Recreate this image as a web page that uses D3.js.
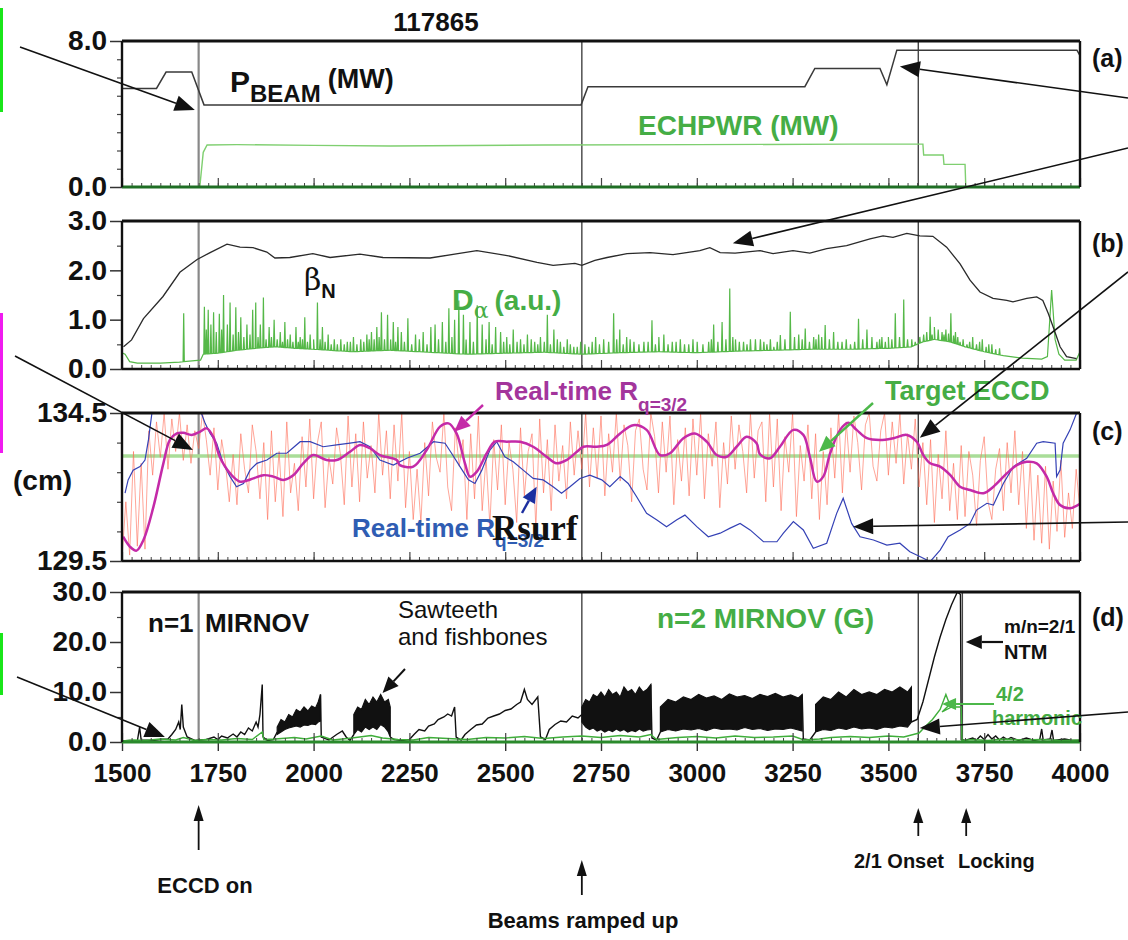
<!DOCTYPE html>
<html>
<head>
<meta charset="utf-8">
<script src="https://cdn.jsdelivr.net/npm/d3@7"></script>
<style>
  body { margin: 0; background: #fff; }
  svg { display: block; }
</style>
</head>
<body>
<svg id="chart" width="1128" height="940"></svg>
<script>
// ---------------- Shot 117865: time traces (ms) ----------------
const shotLabel = "117865";
const timeDomain = [1500, 4000];
const xMajorTicks = [1500, 1750, 2000, 2250, 2500, 2750, 3000, 3250, 3500, 3750, 4000];
const eventTimes = [1700, 2700, 3578];   // ECCD on, beams ramped up, 2/1 onset
const lockTime = 3693;                   // mode locking

// (a) neutral beam power and ECH power (MW)
const pbeamT = [1500, 1590, 1615, 1682, 1714, 2698, 2716, 3282, 3308, 3478, 3496, 3522, 3992, 4000];
const pbeamV = [5.4, 5.4, 6.3, 6.3, 4.5, 4.5, 5.5, 5.5, 6.5, 6.5, 5.6, 7.5, 7.5, 7.2];
const echT = [1500, 1703, 1712, 1722, 1800, 2000, 2200, 2600, 3000, 3400, 3590, 3592, 3643, 3645, 3700, 3702, 4000];
const echV = [0, 0, 1.9, 2.3, 2.32, 2.28, 2.25, 2.3, 2.32, 2.35, 2.35, 1.75, 1.75, 1.24, 1.24, 0, 0];

// (b) normalized beta and D-alpha
const betaT = [1504, 1525, 1556, 1607, 1651, 1696, 1730, 1774, 1808, 1842, 1878, 1899, 1938, 1998, 2043, 2121, 2181, 2304, 2426, 2505, 2583, 2625, 2682, 2700, 2734, 2766, 2818, 2878, 2938, 3008, 3034, 3061, 3100, 3165, 3199, 3251, 3295, 3339, 3391, 3452, 3486, 3512, 3548, 3582, 3616, 3652, 3687, 3713, 3739, 3773, 3809, 3825, 3861, 3887, 3903, 3917, 3930, 3948, 3965, 3991];
const betaV = [0.45, 0.59, 1.02, 1.47, 1.96, 2.22, 2.36, 2.53, 2.47, 2.46, 2.37, 2.25, 2.26, 2.34, 2.26, 2.33, 2.26, 2.25, 2.4, 2.3, 2.16, 2.1, 2.14, 2.1, 2.2, 2.26, 2.34, 2.36, 2.32, 2.4, 2.46, 2.36, 2.35, 2.4, 2.34, 2.4, 2.35, 2.44, 2.5, 2.64, 2.7, 2.67, 2.75, 2.7, 2.69, 2.47, 2.13, 1.8, 1.56, 1.43, 1.39, 1.36, 1.43, 1.46, 1.39, 1.13, 0.85, 0.45, 0.25, 0.21];
const dalphaBase = [[1500,0.33],[1508,0.3],[1520,0.15],[1540,0.12],[1600,0.12],[1650,0.14],[1690,0.17],[1705,0.18],[1712,0.3],[1750,0.32],[1800,0.38],[1850,0.42],[1900,0.45],[1950,0.42],[2000,0.4],[2100,0.35],[2200,0.38],[2300,0.34],[2400,0.3],[2500,0.32],[2600,0.34],[2700,0.3],[2800,0.33],[2900,0.35],[3000,0.33],[3100,0.36],[3200,0.38],[3300,0.4],[3400,0.4],[3500,0.42],[3560,0.45],[3590,0.55],[3620,0.6],[3660,0.55],[3700,0.45],[3750,0.35],[3800,0.27],[3850,0.22],[3900,0.2],[3915,0.25],[3926,1.6],[3935,0.6],[3945,0.3],[3960,0.18],[3990,0.18],[4000,0.35]];
const dalphaSpikes = [[1661,1.13],[1715,1.26],[1725,1.2],[1739,1.15],[1754,1.12],[1765,1.5],[1782,1.35],[1797,1.25],[1810,1.05],[1826,0.9],[1841,1.2],[1849,1.35],[1861,0.9],[1869,1.45],[1884,0.85],[1897,1.0],[1913,0.75],[1925,0.95],[1939,0.7],[1954,0.85],[1965,0.65],[1977,1.05],[1991,0.7],[2010,1.35],[2023,0.85],[2038,0.7],[2054,0.6],[2071,0.6],[2088,0.55],[2104,0.65],[2123,0.6],[2139,0.7],[2151,0.75],[2165,0.85],[2177,1.15],[2193,1.1],[2208,0.95],[2220,0.85],[2229,0.75],[2246,1.03],[2266,0.7],[2286,0.75],[2306,0.85],[2317,0.9],[2336,0.95],[2353,1.23],[2368,1.0],[2379,1.39],[2391,1.1],[2408,0.95],[2427,1.29],[2440,0.9],[2458,0.95],[2475,0.85],[2488,0.75],[2504,0.65],[2521,0.8],[2540,0.6],[2558,0.7],[2577,0.55],[2592,0.65],[2610,1.1],[2627,0.8],[2644,0.55],[2662,0.6],[2679,0.45],[2697,0.55],[2718,0.45],[2736,0.65],[2757,0.6],[2783,1.13],[2799,0.8],[2817,0.65],[2836,0.55],[2862,0.55],[2883,0.99],[2901,0.65],[2914,0.7],[2936,0.55],[2957,0.6],[2979,0.5],[3001,0.55],[3031,0.55],[3044,0.9],[3066,0.95],[3086,1.63],[3101,0.6],[3122,0.55],[3140,0.6],[3166,0.6],[3183,0.5],[3201,0.45],[3218,0.69],[3244,1.16],[3266,0.7],[3283,0.82],[3305,0.65],[3318,0.7],[3335,0.89],[3357,0.75],[3379,0.55],[3401,0.5],[3422,1.02],[3444,0.8],[3470,0.55],[3483,0.65],[3500,0.65],[3518,1.13],[3540,1.41],[3561,0.6],[3592,0.7],[3609,1.06],[3620,0.85],[3640,0.75],[3650,0.8],[3663,1.13],[3675,0.75],[3687,0.55],[3705,0.5],[3720,0.65],[3745,0.6],[3770,0.5]];
const dalphaSmallSpikes = [[1720,0.8],[1732,0.9],[1746,0.75],[1760,0.8],[1775,0.9],[1790,0.7],[1804,0.75],[1818,0.65],[1834,0.7],[1855,0.65],[1876,0.6],[1890,0.65],[1905,0.6],[1919,0.55],[1932,0.6],[1946,0.55],[1960,0.55],[1971,0.6],[1984,0.55],[2000,0.6],[2017,0.6],[2030,0.55],[2046,0.5],[2062,0.5],[2080,0.5],[2096,0.55],[2113,0.5],[2131,0.55],[2145,0.6],[2158,0.6],[2171,0.65],[2185,0.6],[2201,0.6],[2214,0.55],[2237,0.55],[2256,0.5],[2276,0.6],[2296,0.5],[2326,0.6],[2345,0.55],[2361,0.65],[2398,0.6],[2417,0.55],[2450,0.6],[2466,0.5],[2496,0.55],[2512,0.5],[2531,0.55],[2549,0.5],[2568,0.6],[2585,0.5],[2602,0.55],[2618,0.5],[2636,0.6],[2653,0.45],[2670,0.5],[2688,0.45],[2708,0.5],[2727,0.55],[2746,0.5],[2770,0.55],[2791,0.6],[2808,0.5],[2826,0.6],[2849,0.5],[2873,0.55],[2892,0.5],[2925,0.5],[2946,0.55],[2968,0.5],[2990,0.6],[3016,0.5],[3038,0.6],[3055,0.55],[3076,0.6],[3094,0.65],[3111,0.55],[3131,0.5],[3153,0.6],[3175,0.55],[3192,0.6],[3210,0.55],[3230,0.6],[3255,0.65],[3275,0.6],[3294,0.55],[3311,0.6],[3326,0.65],[3346,0.6],[3368,0.55],[3390,0.6],[3412,0.55],[3433,0.6],[3457,0.65],[3477,0.6],[3492,0.55],[3509,0.6],[3529,0.65],[3550,0.6],[3570,0.55],[3582,0.65],[3600,0.75],[3614,0.7],[3630,0.8],[3645,0.7],[3657,0.72],[3670,0.68],[3681,0.65],[3695,0.6],[3712,0.55],[3730,0.5],[3738,0.55],[3755,0.45],[3762,0.5],[3780,0.4],[3790,0.42]];

// (c) major radius of q=3/2 surface and ECCD target (cm)
const targetR = 133.05;
const rq32T = [1503, 1521, 1538, 1556, 1582, 1608, 1625, 1643, 1660, 1682, 1704, 1721, 1738, 1755, 1782, 1808, 1843, 1869, 1895, 1921, 1947, 1973, 1999, 2034, 2060, 2095, 2121, 2147, 2173, 2217, 2225, 2260, 2295, 2330, 2352, 2373, 2395, 2408, 2426, 2452, 2473, 2504, 2539, 2573, 2608, 2634, 2660, 2687, 2704, 2739, 2765, 2800, 2834, 2869, 2904, 2930, 2965, 2995, 3026, 3052, 3078, 3104, 3130, 3156, 3165, 3191, 3217, 3252, 3278, 3295, 3313, 3330, 3348, 3374, 3395, 3417, 3444, 3478, 3513, 3548, 3574, 3591, 3609, 3635, 3661, 3687, 3713, 3748, 3774, 3809, 3835, 3861, 3887, 3913, 3930, 3948, 3974, 4000];
const rq32V = [130.32, 129.98, 129.85, 130.21, 131.33, 132.8, 133.59, 133.81, 133.83, 133.76, 133.87, 133.98, 133.7, 133.02, 132.46, 132.18, 132.29, 132.4, 132.35, 132.24, 132.4, 132.8, 133.08, 132.91, 132.91, 133.19, 133.42, 133.31, 133.08, 132.91, 132.74, 132.69, 133.25, 134.04, 134.15, 133.81, 132.8, 132.35, 132.52, 133.14, 133.53, 133.53, 133.53, 133.36, 133.02, 132.8, 132.91, 133.19, 133.36, 133.36, 133.42, 133.81, 134.09, 133.93, 133.08, 133.14, 133.65, 133.81, 133.53, 133.08, 133.02, 133.36, 133.7, 133.48, 133.1, 132.97, 133.36, 133.93, 133.76, 133.02, 132.18, 132.35, 133.14, 133.93, 134.17, 133.93, 133.65, 133.59, 133.65, 133.76, 133.53, 133.08, 132.8, 132.69, 132.41, 132.01, 131.9, 131.79, 132.01, 132.46, 132.74, 132.85, 132.8, 132.35, 131.79, 131.39, 131.28, 131.43];
const rsurfT = [1508, 1516, 1529, 1547, 1560, 1569, 1578, 1583, 1700, 1704, 1717, 1730, 1747, 1764, 1782, 1799, 1817, 1834, 1852, 1878, 1904, 1930, 1965, 1991, 2025, 2060, 2095, 2121, 2147, 2173, 2208, 2243, 2278, 2313, 2343, 2360, 2382, 2404, 2421, 2439, 2460, 2478, 2499, 2521, 2547, 2573, 2599, 2625, 2647, 2669, 2695, 2721, 2752, 2773, 2800, 2821, 2843, 2869, 2895, 2921, 2948, 2969, 3000, 3030, 3061, 3087, 3113, 3139, 3174, 3209, 3226, 3252, 3278, 3304, 3339, 3365, 3382, 3404, 3426, 3461, 3496, 3530, 3556, 3582, 3609, 3635, 3656, 3687, 3713, 3730, 3757, 3774, 3800, 3826, 3861, 3887, 3904, 3935, 3939, 3948, 3956, 3974, 3991, 4000];
const rsurfV = [131.79, 132.24, 132.57, 132.69, 132.91, 133.59, 134.49, 135.5, 135.5, 134.6, 134.15, 133.81, 133.48, 132.8, 132.35, 132.01, 132.12, 132.57, 132.8, 132.91, 133.14, 133.14, 133.53, 133.53, 133.36, 133.42, 133.48, 133.53, 133.36, 132.91, 132.74, 132.97, 133.14, 133.53, 133.48, 133.14, 132.69, 132.24, 132.12, 132.57, 133.25, 133.53, 133.02, 132.85, 132.57, 132.29, 132.24, 132.01, 131.79, 132.01, 132.29, 132.4, 132.24, 132.01, 132.35, 132.12, 131.67, 131.11, 130.89, 130.66, 130.89, 131.05, 130.66, 130.32, 130.44, 130.61, 130.77, 130.55, 130.15, 130.15, 130.44, 130.83, 130.55, 129.93, 130.1, 131.11, 131.62, 130.77, 130.32, 130.21, 130.04, 130.1, 129.81, 129.65, 129.48, 129.87, 130.32, 130.55, 130.77, 131.22, 131.45, 131.39, 132.12, 132.69, 132.97, 133.48, 133.53, 133.48, 132.35, 132.57, 133.48, 133.93, 134.49, 134.8];
// raw (unfiltered) surface radius, sampled every 10 ms from 1500 ms
const rawStep = 10;
const rawR = [
  129.6, 131.5, 129.7, 133.2, 130.0, 132.8, 129.9, 133.9, 132.4, 134.2,
  133.0, 134.5, 132.6, 134.3, 133.2, 134.5, 132.9, 134.1, 132.8, 133.9,
  133.3, 134.5, 133.6, 132.4, 134.0, 131.9, 133.6, 132.8, 131.5, 133.1,
  131.4, 133.8, 132.6, 131.8, 134.1, 133.2, 131.6, 133.5, 130.9, 133.9,
  131.5, 133.2, 131.0, 134.2, 131.8, 132.8, 131.2, 133.7, 132.0, 134.3,
  131.6, 133.5, 134.2, 131.3, 133.0, 132.1, 134.0, 133.1, 131.4, 134.4,
  132.0, 133.8, 131.5, 134.2, 132.3, 133.4, 131.8, 134.5, 132.4, 133.9,
  131.6, 134.1, 132.2, 134.5, 131.3, 133.2, 130.9, 132.6, 130.8, 133.5,
  131.7, 134.2, 133.0, 132.5, 134.5, 132.0, 131.2, 134.0, 132.7, 133.6,
  130.9, 133.8, 131.6, 134.4, 131.2, 133.0, 130.7, 133.6, 131.9, 134.1,
  131.4, 133.5, 132.6, 130.8, 134.0, 131.7, 133.2, 133.8, 130.6, 134.3,
  131.8, 133.6, 131.2, 134.1, 132.2, 133.4, 131.6, 134.2, 132.4, 133.9,
  132.6, 134.5, 132.0, 134.0, 132.3, 134.4, 131.7, 133.8, 132.5, 134.5,
  132.2, 134.1, 133.4, 131.5, 133.9, 134.3, 132.6, 131.9, 134.5, 133.7,
  131.8, 134.2, 132.5, 134.4, 131.4, 133.6, 132.2, 134.0, 131.7, 134.3,
  132.4, 134.5, 131.6, 133.8, 132.7, 134.2, 131.3, 133.5, 132.1, 134.4,
  132.6, 134.1, 133.2, 131.8, 134.5, 132.3, 133.9, 134.2, 131.5, 134.5,
  132.0, 134.3, 131.2, 133.7, 132.5, 134.5, 131.0, 133.4, 132.2, 134.1,
  131.6, 133.8, 130.9, 133.2, 131.4, 134.0, 132.3, 134.5, 131.8, 134.2,
  132.5, 134.4, 133.5, 131.9, 134.1, 134.5, 132.7, 132.2, 133.9, 134.5,
  132.4, 134.2, 132.8, 134.5, 132.1, 133.8, 132.6, 134.3, 132.0, 133.5,
  131.4, 133.6, 130.8, 133.1, 131.6, 133.9, 131.2, 132.8, 130.9, 133.4,
  131.0, 133.2, 132.4, 130.7, 132.9, 133.7, 131.5, 130.9, 132.6, 133.3,
  131.2, 133.5, 131.8, 133.9, 131.4, 133.2, 130.6, 132.8, 130.2, 132.4,
  130.1, 132.7, 129.9, 132.2, 130.5, 132.9, 130.3, 131.8, 130.6, 132.6,
  131.2
];

// (d) Mirnov amplitudes (G): n=1 sparse segments and dense bursts
const n1Segments = [
  [[1500,0.2],[1520,0.3],[1540,0.2],[1546,3.0],[1550,0.4],[1580,0.3],[1600,0.5],[1620,0.6],[1630,1.5],[1640,2.5],[1648,4.0],[1652,2.5],[1656,7.5],[1660,3.0],[1670,1.0],[1690,0.3],[1720,0.5],[1740,1.0],[1750,0.5],[1760,1.2],[1775,0.8],[1790,1.6],[1800,1.0],[1810,2.0],[1820,1.5],[1830,2.8],[1840,2.2],[1850,4.0],[1855,3.0],[1860,5.5],[1866,11.5],[1868,1.0],[1880,0.3],[1895,0.5],[1905,2.0]],
  [[2018,9.5],[2020,1.0],[2040,0.4],[2060,1.5],[2075,2.2],[2085,1.0],[2095,0.3],[2105,1.5]],
  [[2200,1.0],[2210,0.5],[2230,0.3],[2250,0.5],[2262,1.5],[2275,2.5],[2290,2.2],[2300,3.2],[2315,3.6],[2325,4.5],[2340,5.0],[2350,5.6],[2360,5.2],[2368,7.0],[2372,1.0],[2385,0.4],[2395,1.5],[2410,2.5],[2425,3.4],[2440,3.6],[2455,4.8],[2470,5.2],[2485,5.6],[2500,6.3],[2515,6.6],[2530,7.5],[2540,8.0],[2550,10.5],[2558,8.5],[2570,7.5],[2585,9.0],[2592,1.0],[2605,0.5],[2615,2.5],[2630,3.5],[2645,4.2],[2660,4.0],[2675,5.2],[2690,4.8],[2700,5.5]],
  [[2880,11.5],[2883,0.8],[2895,0.4],[2905,2.0]],
  [[3275,9.5],[3278,0.6],[3295,0.4],[3310,2.0]],
  [[3560,4.0],[3575,4.5],[3590,8.0],[3605,12.5],[3620,17.0],[3635,21.0],[3650,24.5],[3665,27.5],[3680,30.0],[3688,29.5],[3690,0.5],[3700,0.3],[3720,0.8],[3730,0.4],[3740,1.2],[3750,0.5],[3760,1.5],[3770,0.6],[3780,1.2],[3790,0.4],[3800,1.0],[3810,0.5],[3820,0.9],[3840,0.3],[3860,0.8],[3880,0.3],[3895,0.5],[3900,2.6],[3904,0.4],[3922,0.6],[3927,2.4],[3931,0.3],[3960,0.6],[3980,0.3],[4000,0.3]]
];
const n1BurstA = { t: [1905,1915,1925,1935,1945,1955,1965,1975,1985,1995,2005,2012,2018], hi: [3.0,4.5,4.0,5.5,5.0,6.5,6.0,7.0,6.2,7.2,6.8,8.0,9.5], lo: [1.5,2.0,2.5,2.8,3.0,3.2,3.0,3.4,3.3,3.6,3.5,4.0,4.2] };
const n1BurstSaw = { t: [2105,2115,2125,2135,2145,2155,2165,2175,2185,2195,2200], hi: [5.5,7.0,6.5,8.5,7.5,9.0,8.0,9.5,8.0,8.5,7.0], lo: [1.5,2.5,2.0,3.0,2.5,3.0,2.5,3.5,3.0,2.0,1.0] };
const n1Burst1 = { t: [2700,2710,2720,2730,2740,2750,2760,2770,2780,2790,2800,2810,2820,2830,2840,2850,2860,2870,2880], hi: [7.0,8.5,8.0,9.5,9.0,10.0,9.0,10.5,9.5,10.0,9.0,11.0,10.0,10.5,9.5,11.0,10.0,10.5,11.5], lo: [4.0,3.0,2.5,2.8,2.2,2.5,2.0,2.4,2.1,2.6,2.2,2.5,2.0,2.3,2.1,2.6,2.2,2.4,2.5] };
const n1Burst2 = { t: [2905,2925,2945,2965,2985,3005,3025,3045,3065,3085,3105,3125,3145,3165,3185,3205,3225,3245,3265,3275], hi: [7.0,8.5,8.0,9.0,8.5,9.5,8.8,9.2,8.5,9.6,9.0,9.3,8.7,9.5,9.1,9.7,9.0,9.4,8.8,9.5], lo: [2.0,2.5,2.2,2.6,2.4,2.7,2.3,2.8,2.5,2.6,2.4,2.9,2.5,2.7,2.3,2.6,2.5,2.8,2.4,2.2] };
const n1Burst3 = { t: [3310,3330,3350,3370,3390,3410,3430,3450,3470,3490,3510,3530,3550,3560], hi: [7.5,9.0,8.5,10.0,9.0,10.5,9.5,10.0,9.5,10.5,10.0,11.0,10.0,11.0], lo: [2.0,2.5,2.3,2.8,2.5,3.0,2.6,2.8,2.5,3.0,2.8,3.2,3.0,4.0] };
const n2Trace = [[1500,0.2],[1530,0.4],[1560,0.3],[1600,0.6],[1640,0.4],[1660,0.9],[1690,0.3],[1720,0.5],[1760,0.4],[1800,0.7],[1840,0.5],[1866,2.0],[1870,0.5],[1900,0.6],[1950,0.9],[1980,0.6],[2020,1.2],[2050,0.4],[2100,0.8],[2150,1.3],[2180,0.8],[2220,0.5],[2260,0.4],[2300,0.9],[2350,0.7],[2400,0.5],[2450,0.9],[2500,0.8],[2550,1.1],[2600,0.7],[2650,1.0],[2700,1.2],[2750,0.9],[2800,1.3],[2850,1.0],[2880,1.5],[2895,0.5],[2950,0.9],[3000,1.1],[3050,0.8],[3100,1.2],[3150,0.9],[3200,1.0],[3250,1.2],[3280,0.4],[3320,0.6],[3350,0.9],[3400,1.1],[3450,0.9],[3500,1.2],[3540,1.0],[3565,1.5],[3580,1.8],[3595,3.0],[3615,4.5],[3635,6.5],[3650,9.5],[3660,7.5],[3640,6.0],[3665,7.0],[3690,7.0],[3692,0.3],[3720,0.5],[3760,0.3],[3800,0.6],[3850,0.4],[3900,0.5],[3950,0.3],[4000,0.4]];

// ---------------- layout ----------------
const FONT = "'Liberation Sans', Arial, Helvetica, sans-serif";
const X0 = 122, X1 = 1080;
const svg = d3.select("#chart");
const x = d3.scaleLinear().domain(timeDomain).range([X0, X1]);
const xMinorTicks = d3.range(1500, 4001, 25);

const panels = {
  a: { y: d3.scaleLinear().domain([0, 8]).range([187, 41]), major: [0, 8], minor: [1,2,3,4,5,6,7], tag: "(a)", tagY: 67 },
  b: { y: d3.scaleLinear().domain([0, 3]).range([369, 221]), major: [0,1,2,3], minor: [0.5,1.5,2.5], tag: "(b)", tagY: 252 },
  c: { y: d3.scaleLinear().domain([129.5, 134.5]).range([561, 413]), major: [129.5, 134.5], minor: [130.5,131.5,132.5,133.5], tag: "(c)", tagY: 440 },
  d: { y: d3.scaleLinear().domain([0, 30]).range([742, 592]), major: [0,10,20,30], minor: [5,15,25], tag: "(d)", tagY: 626 }
};

const defs = svg.append("defs");
Object.entries(panels).forEach(([k, p]) => {
  const [b, t] = p.y.range();
  p.top = t; p.bottom = b;
  defs.append("clipPath").attr("id", "clip-" + k)
    .append("rect").attr("x", X0).attr("y", t).attr("width", X1 - X0).attr("height", b - t);
  p.g = svg.append("g");
  p.plot = p.g.append("g").attr("clip-path", `url(#clip-${k})`);
});

function txt(g, x0, y0, str, size, o = {}) {
  return g.append("text").attr("x", x0).attr("y", y0)
    .attr("font-family", o.family || FONT).attr("font-size", size)
    .attr("font-weight", o.weight || "bold").attr("fill", o.fill || "#111")
    .attr("text-anchor", o.anchor || "start").text(str);
}

function arrow(g, x1, y1, x2, y2, o = {}) {
  const color = o.color || "#111", hl = o.hl || 18, hw = o.hw || 7;
  const ang = Math.atan2(y2 - y1, x2 - x1);
  const bx = x2 - hl * Math.cos(ang), by = y2 - hl * Math.sin(ang);
  g.append("line").attr("x1", x1).attr("y1", y1).attr("x2", bx).attr("y2", by)
    .attr("stroke", color).attr("stroke-width", o.w || 1.6);
  const px = -Math.sin(ang) * hw, py = Math.cos(ang) * hw;
  g.append("path").attr("d", `M${x2},${y2}L${bx + px},${by + py}L${bx - px},${by - py}Z`).attr("fill", color);
}

const line = (yS) => d3.line().x(d => x(d[0])).y(d => yS(d[1]));
const zipTV = (T, V) => T.map((t, i) => [t, V[i]]);

// ---------------- axes and frames ----------------
Object.values(panels).forEach(p => {
  const ga = p.g.append("g").attr("transform", `translate(${X0},0)`)
    .call(d3.axisLeft(p.y).tickValues(p.major).tickSize(12).tickPadding(3).tickFormat(d3.format(".1f")));
  ga.select(".domain").remove();
  ga.selectAll("line").attr("stroke", "#333").attr("stroke-width", 1.5);
  ga.selectAll("text").attr("font-family", FONT).attr("font-size", 28).attr("font-weight", "bold").attr("fill", "#111");
  const gm = p.g.append("g").attr("transform", `translate(${X0},0)`)
    .call(d3.axisLeft(p.y).tickValues(p.minor).tickSize(5).tickFormat(""));
  gm.select(".domain").remove();
  gm.selectAll("line").attr("stroke", "#444").attr("stroke-width", 1.2);

  const gx = p.g.append("g").attr("transform", `translate(0,${p.bottom})`)
    .call(d3.axisBottom(x).tickValues(xMinorTicks).tickSize(-4).tickFormat(""));
  gx.select(".domain").remove();
  gx.selectAll("line").attr("stroke", "#444").attr("stroke-width", 1);
  const gX = p.g.append("g").attr("transform", `translate(0,${p.bottom})`)
    .call(d3.axisBottom(x).tickValues(xMajorTicks).tickSize(-9).tickFormat(""));
  gX.select(".domain").remove();
  gX.selectAll("line").attr("stroke", "#444").attr("stroke-width", 1.2);

  txt(svg, 1092, p.tagY, p.tag, 25);
});

// bottom time axis with labels
const gxd = svg.append("g").attr("transform", `translate(0,${panels.d.bottom})`)
  .call(d3.axisBottom(x).tickValues(xMajorTicks).tickSize(9).tickPadding(13).tickFormat(d3.format("d")));
gxd.select(".domain").remove();
gxd.selectAll("line").attr("stroke", "#333").attr("stroke-width", 1.4);
gxd.selectAll("text").attr("font-family", FONT).attr("font-size", 26).attr("font-weight", "bold").attr("fill", "#111");

// event lines
Object.entries(panels).forEach(([k, p]) => {
  const ev = k === "d" ? eventTimes.concat([lockTime]) : eventTimes;
  p.plot.selectAll(".ev").data(ev).join("line")
    .attr("x1", d => x(d)).attr("x2", d => x(d)).attr("y1", p.top).attr("y2", p.bottom)
    .attr("stroke", (d, i) => i === 0 ? "#888" : "#444").attr("stroke-width", (d, i) => i === 0 ? 2.2 : 1.4);
});

// ---------------- (a) ----------------
const pa = panels.a;
pa.plot.append("path").datum(zipTV(echT, echV)).attr("d", line(pa.y))
  .attr("fill", "none").attr("stroke", "#7fcf70").attr("stroke-width", 1.4);
pa.plot.append("path").datum(zipTV(pbeamT, pbeamV)).attr("d", line(pa.y))
  .attr("fill", "none").attr("stroke", "#3a3a3a").attr("stroke-width", 1.5);

// ---------------- (b) ----------------
const pb = panels.b;
const baseAt = (t) => {
  const i = d3.bisector(d => d[0]).right(dalphaBase, t);
  const a = dalphaBase[Math.max(0, i - 1)], b = dalphaBase[Math.min(dalphaBase.length - 1, i)];
  if (a[0] === b[0]) return a[1];
  return a[1] + (b[1] - a[1]) * (t - a[0]) / (b[0] - a[0]);
};
const daPts = dalphaBase.slice();
dalphaSpikes.concat(dalphaSmallSpikes).forEach(([t, v]) => {
  daPts.push([t - 1.6, baseAt(t - 1.6)], [t, v], [t + 1.6, baseAt(t + 1.6)]);
});
daPts.sort((p, q) => p[0] - q[0]);
pb.plot.append("path").datum(daPts).attr("d", line(pb.y))
  .attr("fill", "none").attr("stroke", "#55b848").attr("stroke-width", 1.2);
pb.plot.append("path").datum(zipTV(betaT, betaV)).attr("d", line(pb.y))
  .attr("fill", "none").attr("stroke", "#2a2a2a").attr("stroke-width", 1.3);

// ---------------- (c) ----------------
const pc = panels.c;
pc.plot.append("line").attr("x1", X0).attr("x2", X1).attr("y1", pc.y(targetR)).attr("y2", pc.y(targetR))
  .attr("stroke", "#a9dd98").attr("stroke-width", 3.5);
pc.plot.append("path").datum(rawR.map((v, i) => [timeDomain[0] + i * rawStep, v])).attr("d", line(pc.y))
  .attr("fill", "none").attr("stroke", "#ff6a55").attr("stroke-opacity", 0.6).attr("stroke-width", 1);
pc.plot.append("path").datum(zipTV(rsurfT, rsurfV)).attr("d", line(pc.y))
  .attr("fill", "none").attr("stroke", "#3441b5").attr("stroke-width", 1.2);
pc.plot.append("path").datum(zipTV(rq32T, rq32V)).attr("d", line(pc.y).curve(d3.curveCatmullRom))
  .attr("fill", "none").attr("stroke", "#c42aa8").attr("stroke-width", 2.5);

// ---------------- (d) ----------------
const pd = panels.d;
const burstArea = d3.area().x(d => x(d.t)).y0(d => pd.y(d.lo)).y1(d => pd.y(d.hi));
[n1BurstA, n1BurstSaw, n1Burst1, n1Burst2, n1Burst3].forEach(b => {
  const rows = b.t.map((t, i) => ({ t, hi: b.hi[i], lo: b.lo[i] }));
  pd.plot.append("path").datum(rows).attr("d", burstArea)
    .attr("fill", "#111").attr("stroke", "#111").attr("stroke-width", 1.2).attr("stroke-linejoin", "miter");
});
n1Segments.forEach(seg => {
  pd.plot.append("path").datum(seg).attr("d", line(pd.y))
    .attr("fill", "none").attr("stroke", "#111").attr("stroke-width", 1.4);
});
pd.plot.append("path").datum(n2Trace).attr("d", line(pd.y))
  .attr("fill", "none").attr("stroke", "#3fae3a").attr("stroke-width", 1.4);

// baselines and frames (drawn on top)
svg.append("line").attr("x1", X0).attr("x2", X1).attr("y1", pa.bottom).attr("y2", pa.bottom)
  .attr("stroke", "#1f6e24").attr("stroke-width", 3);
svg.append("line").attr("x1", X0).attr("x2", X1).attr("y1", pd.bottom).attr("y2", pd.bottom)
  .attr("stroke", "#2a8a2c").attr("stroke-width", 3);
Object.entries(panels).forEach(([k, p]) => {
  const g = svg.append("g").attr("fill", "none").attr("stroke", "#111");
  g.append("line").attr("x1", X0).attr("x2", X1).attr("y1", p.top).attr("y2", p.top).attr("stroke-width", 3.2);
  g.append("line").attr("x1", X0).attr("x2", X0).attr("y1", p.top).attr("y2", p.bottom).attr("stroke-width", 2.4);
  g.append("line").attr("x1", X1).attr("x2", X1).attr("y1", p.top).attr("y2", p.bottom).attr("stroke-width", 2.4);
  if (k === "b" || k === "c")
    g.append("line").attr("x1", X0).attr("x2", X1).attr("y1", p.bottom).attr("y2", p.bottom).attr("stroke-width", 2.4);
});

// ---------------- labels ----------------
const GREEN = "#45ad45";
txt(svg, 436, 31, shotLabel, 26, { anchor: "middle" });

const tP = txt(svg, 230, 92, "P", 30);
tP.append("tspan").attr("font-size", 24).attr("dy", 10).text("BEAM");
tP.append("tspan").attr("font-size", 27).attr("dy", -14).attr("dx", 7).text("(MW)");
txt(svg, 638, 135, "ECHPWR (MW)", 28, { fill: GREEN });

const tB = txt(svg, 304, 290, "β", 30, { weight: "normal", family: "'DejaVu Serif', 'Liberation Serif', serif" });
tB.append("tspan").attr("font-size", 20).attr("font-weight", "bold").attr("font-family", FONT).attr("dy", 8).text("N");
const tD = txt(svg, 452, 310, "D", 30, { fill: GREEN });
tD.append("tspan").attr("font-size", 22).attr("font-weight", "normal").attr("font-family", "'DejaVu Serif', serif").attr("dy", 8).text("α");
tD.append("tspan").attr("font-size", 28).attr("dy", -8).attr("dx", 6).text("(a.u.)");

const tM = txt(svg, 495, 400, "Real-time R", 26, { fill: "#a3359c" });
tM.append("tspan").attr("font-size", 19).attr("dy", 11).text("q=3/2");
txt(svg, 885, 400, "Target ECCD", 27, { fill: GREEN });
const tBl = txt(svg, 352, 537, "Real-time R", 26, { fill: "#2f5db3" });
tBl.append("tspan").attr("font-size", 19).attr("dy", 10).text("q=3/2");
txt(svg, 492, 540, "Rsurf", 35, { family: "'Liberation Serif', 'Times New Roman', serif", fill: "#111" });
txt(svg, 13, 490, "(cm)", 28);

txt(svg, 148, 632, "n=1", 26);
txt(svg, 205, 632, "MIRNOV", 26);
txt(svg, 398, 618, "Sawteeth", 24, { weight: "normal" });
txt(svg, 398, 645, "and fishbones", 24, { weight: "normal" });
txt(svg, 657, 628, "n=2 MIRNOV (G)", 28, { fill: GREEN });
txt(svg, 1004, 633, "m/n=2/1", 19);
txt(svg, 1004, 659, "NTM", 20);
txt(svg, 996, 701, "4/2", 20, { fill: GREEN });
txt(svg, 992, 725, "harmonic", 20, { fill: GREEN });

// edge markers
svg.append("rect").attr("x", 0).attr("y", 8).attr("width", 3).attr("height", 104).attr("fill", "#19e619");
svg.append("rect").attr("x", 0).attr("y", 313).attr("width", 3).attr("height", 140).attr("fill", "#f01bf0");
svg.append("rect").attr("x", 0).attr("y", 633).attr("width", 3).attr("height", 62).attr("fill", "#19e619");

// ---------------- annotation arrows ----------------
const ann = svg.append("g");
arrow(ann, 20, 47, x(1690), pa.y(4.22), { hl: 20, hw: 8 });
arrow(ann, 1128, 98, x(3530), pa.y(6.6), { hl: 20, hw: 8 });
arrow(ann, 1128, 148, x(3094), pb.y(2.55), { hl: 20, hw: 8 });
arrow(ann, 1128, 272, x(3582), pc.y(133.66), { hl: 20, hw: 8 });
arrow(ann, 15, 356, x(1685), pc.y(133.25), { hl: 20, hw: 8 });
arrow(ann, 1128, 522, x(3408), pc.y(130.66), { hl: 20, hw: 8 });
arrow(ann, 17, 677, x(1612), pd.y(1.0), { hl: 20, hw: 8 });
arrow(ann, 1128, 712, x(3582), pd.y(2.8), { hl: 20, hw: 8 });
arrow(ann, 483, 405, x(2367), pc.y(133.87), { color: "#c42aa8", hl: 16, hw: 7, w: 2.4 });
arrow(ann, 873, 403, x(3319), pc.y(133.19), { color: "#4cb84a", hl: 16, hw: 7, w: 2.4 });
arrow(ann, 522, 513, x(2582), pc.y(132.01), { color: "#1d2fa0", hl: 16, hw: 7, w: 2.4 });
arrow(ann, 405, 669, x(2180), pd.y(9.8), { hl: 16, hw: 7, w: 2 });
arrow(ann, 1003, 642, x(3702), pd.y(20), { hl: 16, hw: 7, w: 2.2 });
arrow(ann, 994, 704, x(3640), pd.y(7.6), { color: "#4cb84a", hl: 14, hw: 6, w: 2.2 });

// bottom event annotations
arrow(ann, x(1700), 850, x(1700), 805, { hl: 16, hw: 5, w: 1.8 });
txt(svg, 205, 893, "ECCD on", 22, { anchor: "middle" });
arrow(ann, x(2700), 895, x(2700), 860, { hl: 16, hw: 5, w: 1.8 });
txt(svg, 583, 928, "Beams ramped up", 22, { anchor: "middle" });
arrow(ann, x(3578), 836, x(3578), 808, { hl: 15, hw: 5, w: 1.8 });
txt(svg, 899, 868, "2/1 Onset", 20, { anchor: "middle" });
arrow(ann, x(3703), 836, x(3703), 808, { hl: 15, hw: 5, w: 1.8 });
txt(svg, 958, 868, "Locking", 20);
</script>
</body>
</html>
